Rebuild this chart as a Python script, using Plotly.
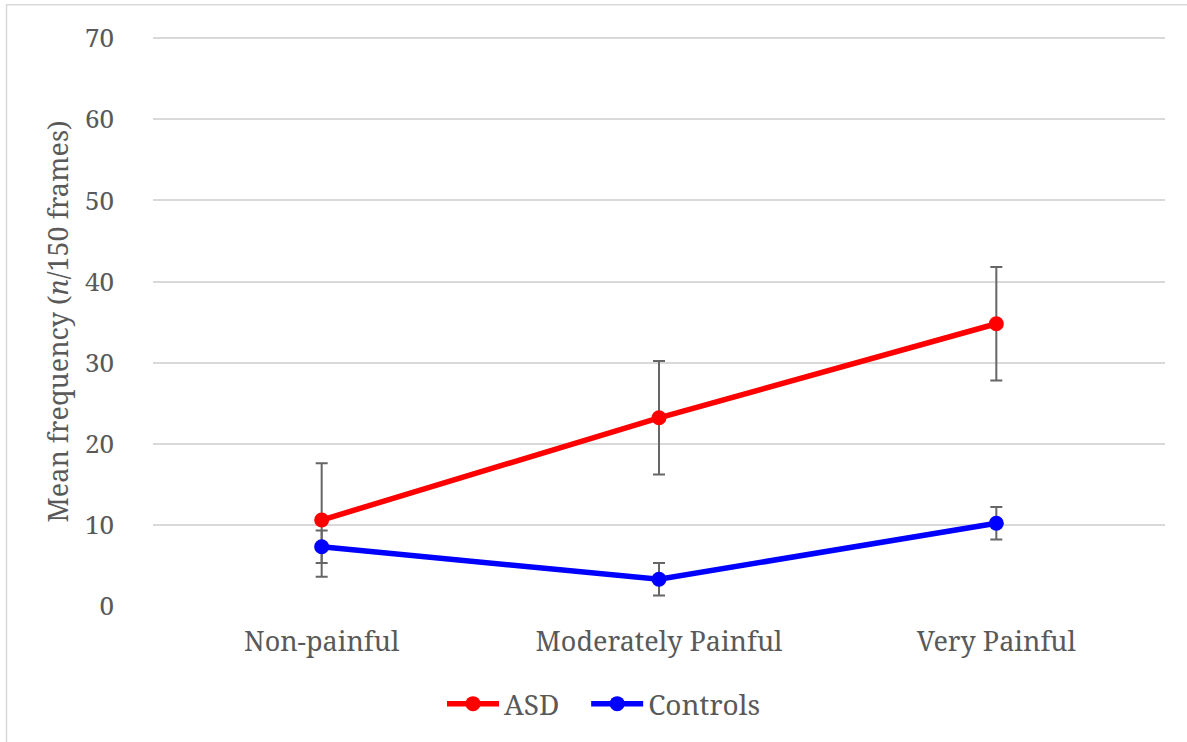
import plotly.graph_objects as go

categories = ["Non-painful", "Moderately Painful", "Very Painful"]
asd_mean = [10.6, 23.2, 34.8]
asd_err = [7.0, 7.0, 7.0]
ctrl_mean = [7.3, 3.3, 10.2]
ctrl_err = [2.0, 2.0, 2.0]
y_ticks = [0, 10, 20, 30, 40, 50, 60, 70]

FONT = "Noto Serif"
TXT = "#595959"

fig = go.Figure()
err_style = dict(type="data", visible=True, color="#666666", thickness=2, width=6)
fig.add_trace(go.Scatter(
    x=categories, y=asd_mean, name="ASD\u00a0\u00a0\u00a0", mode="lines+markers",
    line=dict(color="#FF0000", width=5.5), marker=dict(size=15, color="#FF0000"),
    error_y=dict(array=asd_err, **err_style)))
fig.add_trace(go.Scatter(
    x=categories, y=ctrl_mean, name="Controls", mode="lines+markers",
    line=dict(color="#0000FF", width=5.5), marker=dict(size=15, color="#0000FF"),
    error_y=dict(array=ctrl_err, **err_style)))

L, R, B = 153, 22, 136
W, H = 1187, 742
YMAX = 70.15
T = 38 - (YMAX - 70) * (568 / 70)
pw, ph = W - L - R, H - T - B

def px(x):
    return (x - L) / pw

def py(y):
    return (H - B - y) / ph

fig.add_shape(type="rect", xref="paper", yref="paper",
              x0=px(6.5), x1=px(1195), y0=py(4.5), y1=py(760),
              line=dict(color="#d9d9d9", width=1.5), fillcolor="rgba(0,0,0,0)", layer="below")

fig.update_layout(
    width=W, height=H,
    margin=dict(l=L, r=R, t=T, b=B),
    paper_bgcolor="white", plot_bgcolor="white",
    font=dict(family=FONT, color=TXT, size=27),
    showlegend=True,
    legend=dict(orientation="h", x=px(604), y=py(704), xanchor="center", yanchor="middle",
                font=dict(family=FONT, size=28, color=TXT), itemwidth=52,
                bgcolor="rgba(0,0,0,0)"),
    xaxis=dict(range=[-0.5, 2.5], showgrid=False, zeroline=False, showline=False,
               ticks="", tickfont=dict(family=FONT, size=27, color=TXT),
               ticklabelstandoff=17),
    yaxis=dict(range=[0, YMAX], tickvals=y_ticks, showgrid=True, gridcolor="#d9d9d9",
               gridwidth=1.5, zeroline=False, showline=False, ticks="",
               tickfont=dict(family=FONT, size=26, color=TXT), ticklabelstandoff=38,
               title=dict(text="Mean frequency (<i>n</i>/150 frames)", standoff=8,
                          font=dict(family=FONT, size=27, color=TXT))),
)

fig.write_html("out.html")
